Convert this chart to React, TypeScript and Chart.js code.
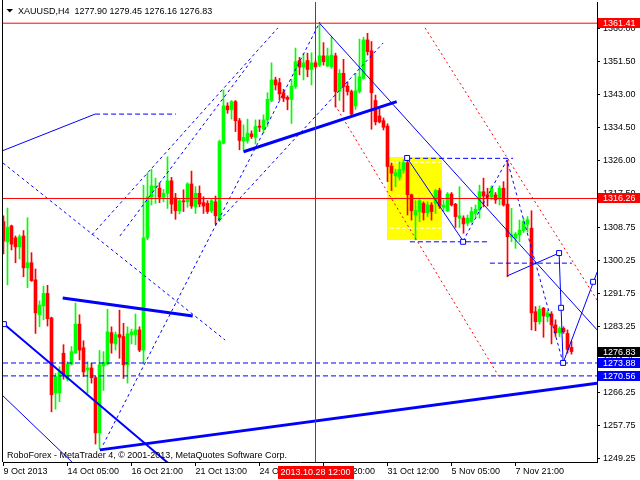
import React, { useEffect, useRef } from 'react';
import { Chart, registerables } from 'chart.js';

Chart.register(...registerables);

// ---------- data ----------
const symbol = 'XAUUSD';
const timeframe = 'H4';

const opens = [
  1310.3, 1305.1, 1309.2, 1306.1, 1303.8, 1306.6, 1298.4, 1299.7, 1295.3, 1286.3,
  1288.6, 1291.8, 1285.5, 1266.1, 1266.2, 1276.4, 1269.7, 1273.6, 1276.5, 1283.9,
  1277.8, 1272.1, 1272.6, 1270.1, 1255.9, 1273.1, 1273.6, 1281.7, 1278.8, 1281.2,
  1280.7, 1273.4, 1281.2, 1281.2, 1282.4, 1277.2, 1306.1, 1316.6, 1319.2, 1318.9,
  1316.6, 1317.6, 1320.8, 1316.4, 1313.1, 1315.5, 1315.4, 1320.0, 1314.1, 1317.6,
  1315.2, 1315.0, 1313.1, 1315.4, 1310.9, 1330.5, 1340.1, 1339.1, 1341.2, 1336.3,
  1331.0, 1331.2, 1332.9, 1332.0, 1334.9, 1334.1, 1336.5, 1341.5, 1346.8, 1346.1,
  1343.5, 1342.3, 1341.8, 1345.1, 1351.8, 1350.1, 1351.8, 1349.5, 1351.2, 1350.6,
  1353.0, 1350.4, 1350.2, 1353.0, 1344.0, 1348.5, 1345.2, 1343.8, 1340.1, 1343.8,
  1347.2, 1357.1, 1354.3, 1341.5, 1337.5, 1336.3, 1334.9, 1324.6, 1322.1, 1321.7,
  1323.6, 1325.5, 1317.2, 1312.0, 1312.9, 1315.0, 1312.6, 1314.6, 1315.0, 1318.3,
  1314.0, 1313.1, 1317.4, 1314.8, 1311.2, 1311.2, 1309.9, 1310.3, 1312.4, 1313.3,
  1318.0, 1317.2, 1316.6, 1317.2, 1316.1, 1318.9, 1314.8, 1306.3, 1306.0, 1306.9,
  1308.0, 1309.6, 1308.6, 1287.1, 1284.5, 1288.0, 1285.8, 1286.5, 1283.7, 1281.7,
  1282.8, 1281.5, 1277.90,
];
const highs = [
  1311.8, 1313.8, 1309.4, 1306.6, 1306.9, 1308.0, 1311.3, 1302.3, 1298.1, 1289.9,
  1293.7, 1293.9, 1285.7, 1271.2, 1272.9, 1278.6, 1274.2, 1278.1, 1289.3, 1286.3,
  1279.6, 1274.2, 1273.8, 1270.4, 1277.1, 1276.8, 1287.7, 1283.2, 1281.9, 1287.5,
  1284.1, 1283.2, 1282.6, 1286.5, 1283.2, 1319.7, 1322.8, 1323.8, 1321.5, 1320.2,
  1318.6, 1327.0, 1321.7, 1317.6, 1316.1, 1318.5, 1320.3, 1323.3, 1319.3, 1319.5,
  1316.7, 1315.7, 1316.1, 1316.9, 1331.3, 1344.2, 1340.9, 1341.5, 1341.5, 1336.9,
  1335.2, 1336.7, 1333.7, 1336.5, 1336.5, 1337.8, 1343.5, 1351.2, 1347.5, 1347.2,
  1344.4, 1342.7, 1347.0, 1355.0, 1352.6, 1353.5, 1353.7, 1353.8, 1351.8, 1361.4,
  1356.4, 1355.0, 1357.8, 1353.7, 1349.5, 1352.1, 1346.3, 1344.2, 1348.5, 1357.3,
  1357.8, 1358.8, 1356.7, 1342.9, 1339.3, 1337.0, 1335.5, 1325.4, 1323.8, 1325.7,
  1326.2, 1327.0, 1317.4, 1315.7, 1316.3, 1315.4, 1315.4, 1315.2, 1318.6, 1318.9,
  1315.9, 1317.8, 1317.8, 1315.0, 1319.3, 1311.8, 1312.0, 1314.0, 1314.6, 1319.7,
  1321.5, 1318.9, 1319.5, 1317.8, 1319.5, 1320.6, 1326.0, 1313.7, 1307.5, 1310.7,
  1311.2, 1311.6, 1313.1, 1288.4, 1288.6, 1288.2, 1287.5, 1287.1, 1285.0, 1283.2,
  1283.2, 1282.4, 1279.45,
];
const lows = [
  1302.0, 1294.0, 1303.0, 1299.7, 1300.7, 1296.1, 1293.3, 1294.9, 1281.5, 1283.2,
  1285.0, 1283.4, 1261.3, 1262.0, 1263.9, 1269.7, 1269.2, 1273.4, 1276.4, 1274.7,
  1270.4, 1266.1, 1268.7, 1253.0, 1251.7, 1266.8, 1273.4, 1276.4, 1277.2, 1275.1,
  1269.9, 1268.7, 1278.8, 1278.6, 1276.8, 1273.8, 1305.6, 1314.6, 1315.0, 1315.2,
  1315.4, 1313.7, 1312.4, 1310.9, 1312.3, 1312.9, 1314.0, 1313.7, 1312.4, 1314.1,
  1312.4, 1312.4, 1312.6, 1309.7, 1310.3, 1330.3, 1338.2, 1336.7, 1333.5, 1328.8,
  1328.8, 1330.5, 1331.7, 1330.3, 1333.5, 1333.1, 1334.8, 1341.2, 1344.2, 1341.6,
  1341.2, 1339.1, 1335.6, 1344.6, 1348.1, 1346.8, 1347.6, 1345.5, 1349.8, 1350.2,
  1350.6, 1350.2, 1349.8, 1339.8, 1341.5, 1338.6, 1342.9, 1337.8, 1339.2, 1343.4,
  1347.0, 1353.2, 1334.1, 1335.2, 1335.7, 1333.9, 1320.6, 1318.3, 1319.3, 1321.0,
  1322.8, 1312.0, 1310.7, 1305.6, 1310.3, 1310.7, 1311.6, 1310.7, 1312.4, 1313.7,
  1312.9, 1312.9, 1314.3, 1308.8, 1308.8, 1307.3, 1309.2, 1309.9, 1311.4, 1311.2,
  1314.1, 1314.3, 1315.9, 1315.0, 1314.6, 1314.3, 1296.1, 1305.1, 1303.4, 1305.1,
  1307.5, 1307.6, 1282.4, 1282.2, 1283.9, 1280.5, 1284.5, 1278.8, 1280.7, 1280.7,
  1281.5, 1276.4, 1276.16,
];
const closes = [
  1305.3, 1308.8, 1304.5, 1303.8, 1306.4, 1298.4, 1299.7, 1295.1, 1286.8, 1288.8,
  1291.8, 1285.3, 1265.7, 1270.4, 1271.6, 1270.8, 1273.6, 1276.8, 1283.9, 1277.2,
  1271.6, 1272.6, 1270.1, 1255.9, 1273.4, 1274.0, 1281.9, 1279.0, 1281.2, 1280.5,
  1273.4, 1281.4, 1281.9, 1282.4, 1277.2, 1306.1, 1316.7, 1319.5, 1319.4, 1316.6,
  1317.6, 1320.8, 1314.8, 1313.1, 1315.7, 1315.4, 1320.0, 1314.3, 1317.6, 1314.8,
  1314.3, 1312.9, 1315.7, 1311.8, 1330.9, 1340.1, 1339.1, 1341.2, 1336.3, 1331.2,
  1332.0, 1333.1, 1332.2, 1334.8, 1334.6, 1336.5, 1341.8, 1346.8, 1345.5, 1343.2,
  1342.1, 1341.8, 1345.2, 1351.5, 1350.1, 1351.2, 1349.5, 1351.2, 1350.2, 1353.0,
  1351.5, 1353.0, 1353.2, 1343.8, 1348.5, 1345.1, 1343.8, 1338.0, 1344.0, 1347.6,
  1357.1, 1354.1, 1343.5, 1336.0, 1336.0, 1334.6, 1324.5, 1322.8, 1322.9, 1323.8,
  1325.5, 1317.2, 1313.1, 1313.1, 1315.7, 1312.6, 1314.6, 1312.9, 1318.3, 1314.3,
  1314.6, 1317.4, 1314.6, 1311.6, 1311.8, 1309.7, 1311.2, 1312.9, 1313.5, 1318.0,
  1316.9, 1316.6, 1318.9, 1315.9, 1318.9, 1314.6, 1306.4, 1306.9, 1307.1, 1308.1,
  1310.3, 1310.8, 1286.8, 1284.5, 1287.7, 1286.0, 1286.8, 1283.7, 1281.7, 1282.8,
  1281.9, 1277.4, 1276.83,
];

const xTickIdx = [0, 16, 32, 48, 64, 80, 96, 112, 128];
const xTickLabels = [
  '9 Oct 2013', '14 Oct 05:00', '16 Oct 21:00', '21 Oct 13:00', '24 Oct 05:00',
  '28 Oct 20:00', '31 Oct 12:00', '5 Nov 05:00', '7 Nov 21:00',
];
const yTickValues = [
  1360, 1351.5, 1343, 1334.5, 1326, 1317.5, 1308.75, 1300.25, 1291.75, 1283.25,
  1274.75, 1266.25, 1257.75, 1249.25,
];
const xRange = [-0.125, 148.375];
const yRange = [1248.38, 1366.87];

const redLevels = [1361.41, 1316.26];
const blueLevels = [1273.88, 1270.56];
const markerBar = 78;
const markerLabel = '2013.10.28 12:00';
const copyright = 'RoboForex - MetaTrader 4, \u00A9 2001-2013, MetaQuotes Software Corp.';

// drawn objects (bar index, price)
const thickLineA = [[24.1, 1251.5], [148.4, 1268.7]];
const thickLineB = [[14.8, 1290.6], [47.3, 1286.0]];
const thickLineC = [[60.0, 1328.3], [98.3, 1341.2]];
const solidLineLeft = [[-0.125, 1328.6], [22.9, 1338.0]];
const dashLineLeft = [[22.9, 1338.0], [43.1, 1338.0]];
const wideLineDown = [[0.1, 1283.9], [43.0, 1246.5]];
const thinLineDown = [[-0.125, 1265.4], [19.0, 1246.5]];
const dotLine1 = [[-0.125, 1325.4], [55.4, 1279.8]];
const dotLine2 = [[22.1, 1306.9], [68.6, 1360.2]];
const dotLine3 = [[29.1, 1306.6], [62.1, 1351.9]];
const dotLine4 = [[24.9, 1252.8], [79.1, 1361.7]];
const dotLine5 = [[52.9, 1309.4], [94.9, 1356.3]];
const solidLineTop = [[79.0, 1361.4], [148.4, 1282.4]];
const redDot1 = [[105.4, 1360.2], [148.4, 1290.1]];
const redDot2 = [[82.9, 1340.3], [124.1, 1270.0]];
const dashTop = [[100.9, 1326.6], [127.4, 1326.6]];
const dashBottom = [[101.6, 1305.1], [121.6, 1305.1]];
const dashRight = [[121.6, 1299.6], [142.1, 1299.6]];
const waveSolid = [[100.9, 1326.7], [114.9, 1305.3]];
const waveDot = [[114.9, 1305.3], [125.9, 1326.2], [139.9, 1273.9]];
const projSolid = [[125.9, 1296.3], [138.9, 1302.2], [139.9, 1273.9], [148.4, 1297.3]];
const squareMarkers = [
  [0.1, 1283.9], [100.9, 1326.7], [114.9, 1305.1], [138.9, 1302.2],
  [139.4, 1288.1], [139.9, 1273.9], [147.4, 1294.8],
];
const yellowBoxX = [95.95, 109.8];
const yellowBoxY = [1305.4, 1326.9];
const whiteLevels = [1325.6, 1317.0, 1308.6];
const whiteSpan = [96.6, 109.6];

// ---------- helpers ----------
const BLUE = '#0000ff';
const RED = '#ff0000';
const FONT = '"Liberation Sans", Arial, sans-serif';

const pts = (arr: number[][]) => arr.map(([x, y]) => ({ x, y }));

function lineDs(arr: number[][], color: string, width: number, dash: number[], order: number) {
  return {
    type: 'line',
    data: pts(arr),
    borderColor: color,
    borderWidth: width,
    borderDash: dash,
    pointRadius: 0,
    fill: false,
    tension: 0,
    order,
  };
}

const idx = opens.map((_, i) => i);
const candleColors = idx.map((i) => (closes[i] >= opens[i] ? '#00ff00' : '#ff0000'));

const overlayPlugin = {
  id: 'mt4overlay',
  beforeDatasetsDraw(chart: any) {
    const { ctx, scales } = chart;
    const x = scales.x, y = scales.y;
    ctx.save();
    ctx.fillStyle = '#ffff00';
    const x0 = x.getPixelForValue(yellowBoxX[0]);
    const x1 = x.getPixelForValue(yellowBoxX[1]);
    const y0 = y.getPixelForValue(yellowBoxY[1]);
    const y1 = y.getPixelForValue(yellowBoxY[0]);
    ctx.fillRect(Math.round(x0), Math.round(y0), Math.round(x1 - x0), Math.round(y1 - y0));
    ctx.restore();
  },
  afterDraw(chart: any) {
    const { ctx, chartArea, scales } = chart;
    const x = scales.x, y = scales.y;
    ctx.save();
    // left frame
    ctx.strokeStyle = '#000';
    ctx.lineWidth = 1;
    ctx.beginPath();
    ctx.moveTo(2.5, 0);
    ctx.lineTo(2.5, chartArea.bottom);
    ctx.stroke();

    // title
    const n = opens.length - 1;
    ctx.fillStyle = '#000';
    ctx.beginPath();
    ctx.moveTo(6.5, 9);
    ctx.lineTo(13, 9);
    ctx.lineTo(9.75, 12.5);
    ctx.closePath();
    ctx.fill();
    ctx.font = '9px ' + FONT;
    ctx.textBaseline = 'alphabetic';
    ctx.textAlign = 'left';
    const title = `${symbol},${timeframe}  ${opens[n].toFixed(2)} ${highs[n].toFixed(2)} ${lows[n].toFixed(2)} ${closes[n].toFixed(2)}`;
    ctx.fillText(title, 18, 14);
    ctx.fillText(copyright, 7, 457.5);

    // price labels
    const labels: [number, string][] = [
      [redLevels[0], RED],
      [redLevels[1], RED],
      [closes[n], '#000000'],
      [blueLevels[0], BLUE],
      [blueLevels[1], BLUE],
    ];
    ctx.textBaseline = 'middle';
    labels.forEach(([v, bg]) => {
      const py = y.getPixelForValue(v);
      ctx.fillStyle = bg;
      ctx.fillRect(chartArea.right + 1, Math.round(py) - 5, 43, 10);
      ctx.fillStyle = '#ffffff';
      ctx.fillText(v.toFixed(2), chartArea.right + 6, Math.round(py) + 0.5);
    });

    // time marker label
    const px = x.getPixelForValue(markerBar);
    ctx.fillStyle = RED;
    ctx.fillRect(Math.round(px) - 38, chartArea.bottom + 4, 76, 13);
    ctx.fillStyle = '#ffffff';
    ctx.textAlign = 'center';
    ctx.fillText(markerLabel, px, chartArea.bottom + 10.5);
    ctx.restore();
  },
};

export default function App() {
  const ref = useRef<HTMLCanvasElement>(null);

  useEffect(() => {
    document.body.style.margin = '0';
    const canvas = ref.current;
    if (!canvas) return;

    const datasets: any[] = [
      // square markers (top)
      {
        type: 'line',
        data: pts(squareMarkers),
        showLine: false,
        pointStyle: 'rect',
        pointRadius: 3.5,
        pointBackgroundColor: '#ffffff',
        pointBorderColor: BLUE,
        pointBorderWidth: 1,
        order: 0,
      },
      // levels
      ...redLevels.map((v) => lineDs([[xRange[0], v], [xRange[1], v]], RED, 1, [], 1)),
      lineDs([[markerBar, yRange[0]], [markerBar, yRange[1]]], RED, 1, [], 1),
      ...blueLevels.map((v) => lineDs([[xRange[0], v], [xRange[1], v]], BLUE, 1, [5, 3], 1)),
      // thick lines
      lineDs(thickLineA, BLUE, 3, [], 2),
      lineDs(thickLineB, BLUE, 3, [], 2),
      lineDs(thickLineC, BLUE, 3, [], 2),
      // thin lines
      lineDs(solidLineLeft, BLUE, 1, [], 2),
      lineDs(dashLineLeft, BLUE, 1, [5, 3], 2),
      lineDs(wideLineDown, BLUE, 2, [], 2),
      lineDs(thinLineDown, BLUE, 1, [], 2),
      lineDs(dotLine1, BLUE, 1, [3, 3], 2),
      lineDs(dotLine2, BLUE, 1, [3, 3], 2),
      lineDs(dotLine3, BLUE, 1, [3, 3], 2),
      lineDs(dotLine4, BLUE, 1, [3, 3], 2),
      lineDs(dotLine5, BLUE, 1, [3, 3], 2),
      lineDs(solidLineTop, BLUE, 1, [], 2),
      lineDs(redDot1, RED, 1, [2, 3], 2),
      lineDs(redDot2, RED, 1, [2, 3], 2),
      lineDs(dashTop, BLUE, 1, [5, 3], 2),
      lineDs(dashBottom, BLUE, 1, [5, 3], 2),
      lineDs(dashRight, BLUE, 1, [5, 3], 2),
      lineDs(waveSolid, BLUE, 1, [], 2),
      lineDs(waveDot, BLUE, 1, [3, 3], 2),
      lineDs(projSolid, BLUE, 1, [], 2),
      // candle bodies
      {
        type: 'bar',
        data: idx.map((i) => ({ x: i, y: [opens[i], closes[i]] })),
        backgroundColor: candleColors,
        borderWidth: 0,
        grouped: false,
        maxBarThickness: 3,
        barPercentage: 1,
        categoryPercentage: 1,
        minBarLength: 1,
        order: 10,
      },
      // wicks
      {
        type: 'bar',
        data: idx.map((i) => ({ x: i, y: [lows[i], highs[i]] })),
        backgroundColor: candleColors,
        borderWidth: 0,
        grouped: false,
        maxBarThickness: 1,
        barPercentage: 1,
        categoryPercentage: 1,
        minBarLength: 1,
        order: 11,
      },
      // white dashed levels inside the yellow box
      ...whiteLevels.map((v) => lineDs([[whiteSpan[0], v], [whiteSpan[1], v]], '#ffffff', 1, [4, 2], 12)),
    ];

    const chart = new Chart(canvas, {
      type: 'bar',
      data: { datasets },
      plugins: [overlayPlugin],
      options: {
        animation: false,
        responsive: false,
        devicePixelRatio: 1,
        events: [],
        layout: { padding: { left: 3, top: 2, right: 0, bottom: 0 }, autoPadding: false },
        plugins: { legend: { display: false }, tooltip: { enabled: false }, title: { display: false } },
        scales: {
          x: {
            type: 'linear',
            position: 'bottom',
            min: xRange[0],
            max: xRange[1],
            offset: false,
            grid: { display: true, drawOnChartArea: false, drawTicks: true, tickLength: 4, color: '#000', offset: false },
            border: { display: true, color: '#000', width: 1 },
            ticks: {
              autoSkip: false,
              maxRotation: 0,
              minRotation: 0,
              align: 'start',
              padding: 0,
              color: '#000',
              font: { family: FONT, size: 9 },
              callback: (_v: any, i: number) => xTickLabels[i],
            },
            afterBuildTicks: (scale: any) => {
              scale.ticks = xTickIdx.map((v) => ({ value: v }));
            },
            afterFit: (scale: any) => {
              scale.height = 18;
              scale.paddingLeft = 0;
              scale.paddingRight = 0;
            },
          },
          y: {
            type: 'linear',
            position: 'right',
            min: yRange[0],
            max: yRange[1],
            beginAtZero: false,
            grid: { display: true, drawOnChartArea: false, drawTicks: true, tickLength: 3, color: '#000' },
            border: { display: true, color: '#000', width: 1 },
            ticks: {
              autoSkip: false,
              padding: 3,
              color: '#000',
              font: { family: FONT, size: 9 },
              callback: (v: any) => Number(v).toFixed(2),
            },
            afterBuildTicks: (scale: any) => {
              scale.ticks = yTickValues.map((v) => ({ value: v }));
            },
            afterFit: (scale: any) => {
              scale.width = 43;
              scale.paddingTop = 0;
              scale.paddingBottom = 0;
            },
          },
        },
      } as any,
    } as any);

    return () => chart.destroy();
  }, []);

  return (
    <canvas
      ref={ref}
      width={640}
      height={480}
      style={{ display: 'block', width: 640, height: 480, background: '#fff' }}
    />
  );
}
